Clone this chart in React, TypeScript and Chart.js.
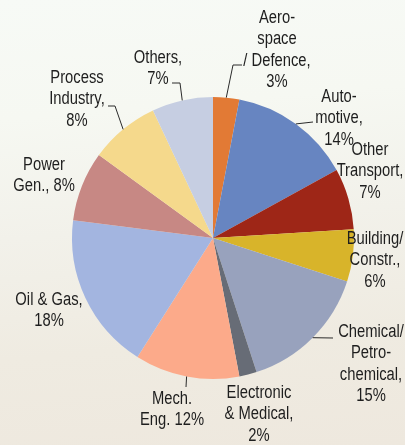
import React, { useEffect, useRef } from "react";
import { Chart, registerables } from "chart.js";

Chart.register(...registerables);

// ---- data ----
const categories = [
  "Aerospace / Defence",
  "Automotive",
  "Other Transport",
  "Building/ Constr.",
  "Chemical/ Petrochemical",
  "Electronic & Medical",
  "Mech. Eng.",
  "Oil & Gas",
  "Power Gen.",
  "Process Industry",
  "Others",
];
const shares = [3, 14, 7, 6, 15, 2, 12, 18, 8, 8, 7];
const labelText: string[][] = [
  ["Aero-", "space", "/ Defence,", "{p}"],
  ["Auto-", "motive,", "{p}"],
  ["Other", "Transport,", "{p}"],
  ["Building/", "Constr.,", "{p}"],
  ["Chemical/", "Petro-", "chemical,", "{p}"],
  ["Electronic", "& Medical,", "{p}"],
  ["Mech.", "Eng. {p}"],
  ["Oil & Gas,", "{p}"],
  ["Power", "Gen., {p}"],
  ["Process", "Industry,", "{p}"],
  ["Others,", "{p}"],
];

// ---- styles / layout ----
const colors = [
  "#E27A35",
  "#6785C1",
  "#9E2617",
  "#D8B42A",
  "#98A2BD",
  "#676C76",
  "#FCAA8A",
  "#A3B5E0",
  "#C78884",
  "#F5D98C",
  "#C6CEE2",
];
const labelPos = [
  { x: 277, y: 18 },
  { x: 339, y: 97 },
  { x: 370, y: 150 },
  { x: 375, y: 239 },
  { x: 371, y: 332 },
  { x: 259, y: 393 },
  { x: 172, y: 399 },
  { x: 49, y: 300 },
  { x: 44, y: 165 },
  { x: 77, y: 78 },
  { x: 158, y: 58 },
];
// elbow points for leader lines (null = no leader)
const leaders: (number[][] | null)[] = [
  [[233, 65], [242, 65]],
  [[313, 122]],
  null,
  null,
  [[333, 338]],
  null,
  [[186, 387]],
  null,
  null,
  [[115, 106], [108, 106]],
  [[180, 83], [172, 83]],
];
const LINE_H = 21.5;
const FONT_SIZE = 18;

function narrowAvailable(): boolean {
  const c = document.createElement("canvas").getContext("2d");
  if (!c) return false;
  c.font = "18px monospace";
  const a = c.measureText("Chemical/ Industry Wm").width;
  c.font = '18px "Liberation Sans Narrow", monospace';
  const b = c.measureText("Chemical/ Industry Wm").width;
  return Math.abs(a - b) > 0.5;
}

export default function App() {
  const ref = useRef<HTMLCanvasElement | null>(null);

  useEffect(() => {
    if (!ref.current) return;
    const narrow = narrowAvailable();
    const family = narrow ? '"Liberation Sans Narrow"' : '"Liberation Sans", Arial';
    const sx = narrow ? 1 : 0.82;

    const labelPlugin = {
      id: "pieLabels",
      afterDraw(chart: any) {
        const ctx = chart.ctx as CanvasRenderingContext2D;
        const meta = chart.getDatasetMeta(0);
        ctx.save();
        // leader lines
        ctx.strokeStyle = "#2a2a2a";
        ctx.lineWidth = 1;
        meta.data.forEach((arc: any, i: number) => {
          const pts = leaders[i];
          if (!pts) return;
          const mid = (arc.startAngle + arc.endAngle) / 2;
          const rx = arc.x + Math.cos(mid) * arc.outerRadius;
          const ry = arc.y + Math.sin(mid) * arc.outerRadius;
          ctx.beginPath();
          ctx.moveTo(rx, ry);
          pts.forEach((p) => ctx.lineTo(p[0], p[1]));
          ctx.stroke();
        });
        // text
        ctx.fillStyle = "#1e1e1e";
        ctx.font = `${FONT_SIZE}px ${family}`;
        ctx.textAlign = "center";
        ctx.textBaseline = "middle";
        labelText.forEach((lines, i) => {
          const pos = labelPos[i];
          lines.forEach((ln, j) => {
            const t = ln.replace("{p}", `${shares[i]}%`);
            ctx.save();
            ctx.translate(pos.x, pos.y + j * LINE_H);
            ctx.scale(sx, 1);
            ctx.fillText(t, 0, 0);
            ctx.restore();
          });
        });
        ctx.restore();
      },
    };

    const chart = new Chart(ref.current, {
      type: "pie",
      data: {
        labels: categories,
        datasets: [
          {
            data: shares,
            backgroundColor: colors,
            borderWidth: 0,
          },
        ],
      },
      options: {
        responsive: false,
        animation: false,
        layout: { padding: { left: 72, right: 51, top: 97, bottom: 66 } },
        plugins: {
          legend: { display: false },
          tooltip: { enabled: false },
        },
      },
      plugins: [labelPlugin],
    } as any);
    return () => chart.destroy();
  }, []);

  return (
    <div
      style={{
        position: "fixed",
        left: 0,
        top: 0,
        width: 405,
        height: 445,
        background:
          "linear-gradient(175deg, #F7FAF6 0%, #F6F8F2 25%, #F2F1EA 50%, #EFEBE1 75%, #EEE8DE 100%)",
      }}
    >
      <canvas ref={ref} width={405} height={445} style={{ display: "block" }} />
    </div>
  );
}
